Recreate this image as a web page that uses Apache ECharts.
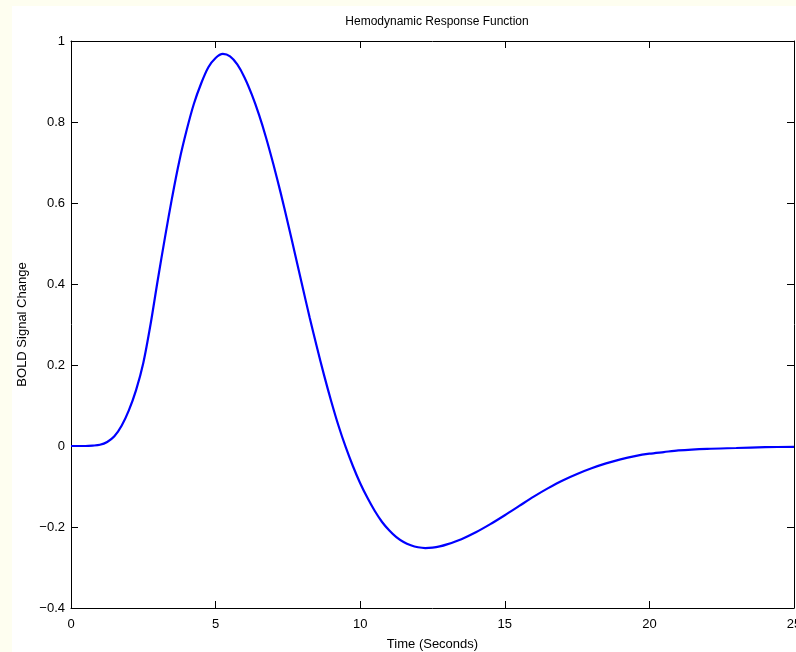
<!DOCTYPE html>
<html>
<head>
<meta charset="utf-8">
<style>
  html, body { margin: 0; padding: 0; background: #fefef0; }
  #chart { width: 796px; height: 652px; }
</style>
<script src="https://cdn.jsdelivr.net/npm/echarts@6/dist/echarts.min.js"></script>
</head>
<body>
<div id="chart"></div>
<script>
// Time samples (seconds) and BOLD signal change
const timeSec = [0, 0.25, 0.5, 0.75, 1.0, 1.25, 1.5, 1.75, 2.0, 2.25, 2.5, 2.75, 3.0, 3.25, 3.5, 3.75,
                 4.0, 4.25, 4.5, 4.75, 5.0, 5.25, 5.5, 5.75, 6.0, 6.25, 6.5, 6.75, 7.0, 7.25, 7.5, 7.75,
                 8.0, 8.25, 8.5, 8.75, 9.0, 9.25, 9.5, 9.75, 10.0, 10.25, 10.5, 10.75, 11.0, 11.25, 11.5, 11.75,
                 12.0, 12.25, 12.5, 12.75, 13.0, 13.5, 14.0, 14.5, 15.0, 15.5, 16.0, 16.5, 17.0, 17.5,
                 18.0, 18.5, 19.0, 19.5, 20.0, 20.5, 21.0, 22.0, 23.0, 24.0, 25.0];
const boldSignal = [0, 0, 0, 0.001, 0.003, 0.010, 0.024, 0.05, 0.088, 0.138, 0.205, 0.30, 0.41, 0.515, 0.615, 0.705,
                    0.78, 0.845, 0.895, 0.935, 0.958, 0.968, 0.962, 0.942, 0.91, 0.868, 0.818, 0.76, 0.695, 0.625, 0.55, 0.473,
                    0.395, 0.318, 0.245, 0.175, 0.11, 0.05, -0.003, -0.05, -0.092, -0.128, -0.16, -0.187, -0.208, -0.225, -0.237, -0.245,
                    -0.25, -0.252, -0.251, -0.248, -0.243, -0.23, -0.213, -0.193, -0.171, -0.148, -0.125, -0.104, -0.085, -0.069,
                    -0.055, -0.043, -0.033, -0.025, -0.019, -0.015, -0.011, -0.007, -0.005, -0.003, -0.002];
const xTicks = [0, 5, 10, 15, 20, 25];
const yTicks = [-0.4, -0.2, 0, 0.2, 0.4, 0.6, 0.8, 1];

const points = timeSec.map((t, i) => [t, boldSignal[i]]);
const font = '"Liberation Sans", Arial, Helvetica, sans-serif';

const fmtY = v => {
  const r = Math.round(v * 10) / 10;
  if (r === 0) return '0';
  return (r < 0 ? '\u2212' : '') + String(Math.abs(r));
};

const axisBase = {
  type: 'value',
  axisLine: { show: true, onZero: false, lineStyle: { color: '#000', width: 1 } },
  axisTick: { show: true, inside: true, length: 7, lineStyle: { color: '#000' } },
  splitLine: { show: false }
};

const chart = echarts.init(document.getElementById('chart'), null, { renderer: 'canvas' });
chart.setOption({
  animation: false,
  backgroundColor: 'transparent',
  graphic: [{
    type: 'rect', z: -10, silent: true,
    shape: { x: 12, y: 6, width: 800, height: 660 },
    style: { fill: '#ffffff' }
  }],
  title: {
    text: 'Hemodynamic Response Function',
    left: 432, top: 11, textAlign: 'center',
    textStyle: { fontFamily: font, fontSize: 12, fontWeight: 'normal', color: '#000' }
  },
  grid: { left: 71, top: 41, right: 2, bottom: 44, containLabel: false, outerBoundsMode: 'none' },
  xAxis: [Object.assign({}, axisBase, {
    min: 0, max: 25, interval: 5, position: 'bottom',
    name: 'Time (Seconds)', nameLocation: 'middle', nameGap: 30,
    nameTextStyle: { fontFamily: font, fontSize: 13, color: '#000' },
    axisLabel: { margin: 10, fontFamily: font, fontSize: 13, color: '#000',
                 formatter: v => xTicks.includes(v) ? String(v) : '' }
  }), Object.assign({}, axisBase, {
    min: 0, max: 25, interval: 5, position: 'top',
    axisLabel: { show: false }
  })],
  yAxis: [Object.assign({}, axisBase, {
    min: -0.4, max: 1, interval: 0.2, position: 'left',
    name: 'BOLD Signal Change', nameLocation: 'middle', nameGap: 42,
    nameTextStyle: { fontFamily: font, fontSize: 13, color: '#000' },
    axisLabel: { margin: 6, fontFamily: font, fontSize: 13, color: '#000', formatter: fmtY }
  }), Object.assign({}, axisBase, {
    min: -0.4, max: 1, interval: 0.2, position: 'right',
    axisLabel: { show: false }
  })],
  series: [{
    type: 'line', xAxisIndex: 0, yAxisIndex: 0,
    data: points, smooth: 0.3, showSymbol: false, symbol: 'none',
    lineStyle: { color: '#0000ff', width: 2.2 }
  }]
});
</script>
</body>
</html>
